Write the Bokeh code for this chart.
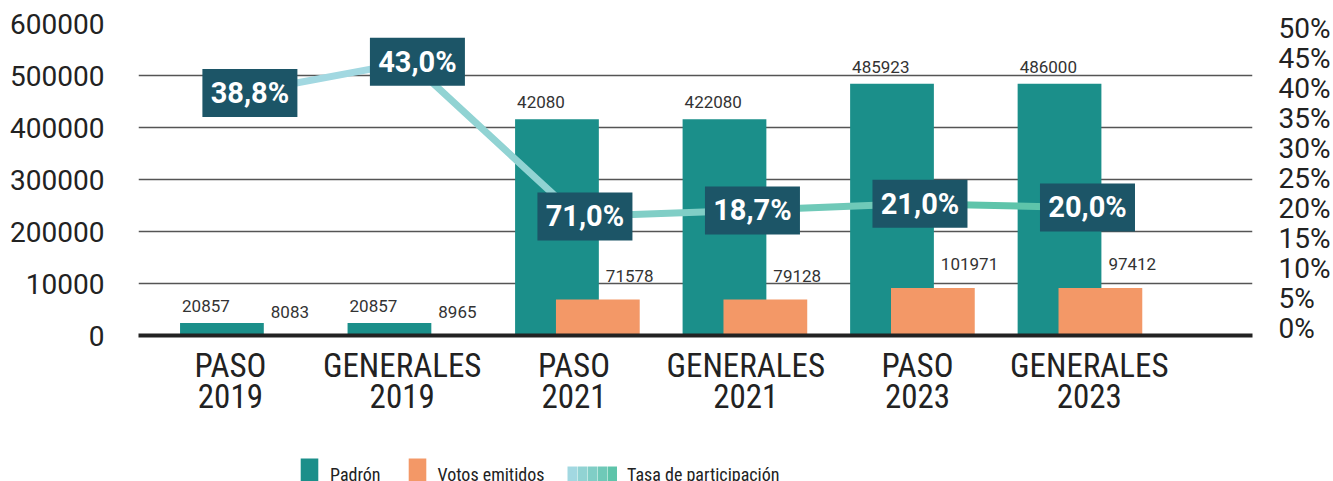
from bokeh.plotting import figure
from bokeh.layouts import column
from bokeh.models import (Range1d, LinearAxis, FixedTicker, Legend, LegendItem)
from bokeh.core.properties import value
from bokeh.embed import file_html
from bokeh.resources import INLINE

# ---------------- data ----------------
categories = ["PASO\n2019", "GENERALES\n2019", "PASO\n2021",
              "GENERALES\n2021", "PASO\n2023", "GENERALES\n2023"]
padron = [24000, 24000, 416000, 416000, 484000, 484000]
votos = [0, 0, 69000, 69000, 91500, 91500]
tasa = [39.3, 44.5, 18.7, 19.7, 20.8, 20.2]

padron_labels = ["20857", "20857", "42080", "422080", "485923", "486000"]
votos_labels = ["8083", "8965", "71578", "79128", "101971", "97412"]
tasa_labels = ["38,8%", "43,0%", "71,0%", "18,7%", "21,0%", "20,0%"]

left_ticks = [0, 100000, 200000, 300000, 400000, 500000, 600000]
left_tick_labels = ["0", "10000", "200000", "300000", "400000", "500000", "600000"]
right_ticks = [0, 5, 10, 15, 20, 25, 30, 35, 40, 45, 50]
right_tick_labels = ["0%", "5%", "10%", "15%", "20%", "25%", "30%", "35%", "40%", "45%", "50%"]

legend_labels = ["Padrón", "Votos emitidos", "Tasa de participación"]

# ---------------- style ----------------
TEAL = "#1b8f8a"
ORANGE = "#f39867"
BOX = "#1c5567"
TXT = "#222222"
NARROW = "'Liberation Sans Narrow', 'Roboto Condensed', 'Roboto'"
grad_start = (0xaa, 0xdb, 0xe8)
grad_end = (0x56, 0xc1, 0xa3)


def grad(t):
    c = tuple(int(round(a + (b - a) * t)) for a, b in zip(grad_start, grad_end))
    return "#%02x%02x%02x" % c


idx = list(range(len(categories)))
off = 0.122
bw = 0.5

p = figure(width=1333, height=458, output_backend="svg", toolbar_location=None,
           x_range=Range1d(-0.62, 6.03), y_range=Range1d(0, 600000),
           x_axis_location=None, min_border_left=138, min_border_right=76,
           min_border_top=23, min_border_bottom=123)
p.outline_line_color = None
p.background_fill_color = "white"
p.border_fill_color = "white"
p.xgrid.visible = False
p.ygrid.ticker = FixedTicker(ticks=left_ticks[1:])
p.ygrid.grid_line_color = "#555555"
p.ygrid.grid_line_width = 1.3

# left axis
ya = p.yaxis[0]
ya.ticker = FixedTicker(ticks=left_ticks)
ya.major_label_overrides = {t: l for t, l in zip(left_ticks, left_tick_labels)}
ya.axis_line_color = None
ya.major_tick_line_color = None
ya.minor_tick_line_color = None
ya.major_label_standoff = 28
ya.major_label_text_font = "Roboto"
ya.major_label_text_font_size = "28px"
ya.major_label_text_color = TXT

# right axis
p.extra_y_ranges = {"pct": Range1d(-1.17, 50.9)}
ra = LinearAxis(y_range_name="pct", ticker=FixedTicker(ticks=right_ticks),
                major_label_overrides={t: l for t, l in zip(right_ticks, right_tick_labels)})
ra.axis_line_color = None
ra.major_tick_line_color = None
ra.minor_tick_line_color = None
ra.major_label_standoff = 20
ra.major_label_text_font = "Roboto"
ra.major_label_text_font_size = "28px"
ra.major_label_text_color = TXT
p.add_layout(ra, "right")

# bottom axis (category labels)
p.extra_x_ranges = {"lbl": Range1d(-0.535, 5.95)}
xa = LinearAxis(x_range_name="lbl", ticker=FixedTicker(ticks=idx),
                major_label_overrides={i: c for i, c in zip(idx, categories)})
xa.axis_line_color = TXT
xa.axis_line_width = 4
xa.major_tick_line_color = None
xa.minor_tick_line_color = None
xa.major_label_standoff = 4
xa.major_label_text_font = NARROW
xa.major_label_text_font_size = "33px"
xa.major_label_text_line_height = 0.82
xa.major_label_text_color = TXT
p.add_layout(xa, "below")

# bars
r_pad = p.vbar(x=[i - off for i in idx], top=padron, width=bw, bottom=0,
               fill_color=TEAL, line_color=None)
r_vot = p.vbar(x=[i + off for i in idx], top=votos, width=bw, bottom=0,
               fill_color=ORANGE, line_color=None)

# value labels
p.text(x=[i - off - bw / 2 for i in idx], y=padron, text=padron_labels,
       x_offset=2, y_offset=-17, text_align="left", text_baseline="middle",
       text_font=value("Roboto"), text_font_size="17px", text_color="#333333")
p.text(x=[i + off for i in idx], y=votos, text=votos_labels,
       x_offset=8, y_offset=-24, text_align="left", text_baseline="middle",
       text_font=value("Roboto"), text_font_size="17px", text_color="#333333")

# participation line (gradient approximated per segment)
n = len(idx) - 1
seg_colors = [grad((k + 0.5) / n) for k in range(n)]
p.segment(x0=idx[:-1], y0=tasa[:-1], x1=idx[1:], y1=tasa[1:], line_color=seg_colors,
          line_width=7, line_cap="round", y_range_name="pct")

box_x = [i + 0.045 for i in idx]
p.rect(x=box_x, y=tasa, width=95, height=48, width_units="screen", height_units="screen",
       fill_color=BOX, line_color=None, y_range_name="pct")
p.text(x=box_x, y=tasa, text=tasa_labels, text_align="center", text_baseline="middle",
       text_font=value("Roboto"), text_font_style="bold", text_font_size="29px",
       text_color="white", y_range_name="pct")

# ---------------- legend strip (cut by the window bottom, as in the reference) ----
lg = figure(width=1333, height=23, output_backend="svg", toolbar_location=None,
            x_range=Range1d(0, 1), y_range=Range1d(0, 1), min_border=0,
            x_axis_location=None, y_axis_location=None)
lg.outline_line_color = None
lg.grid.visible = False
lg.background_fill_color = None
lg.border_fill_color = None
# legend-only renderers with zero-size geometry (they draw nothing themselves)
d_pad = lg.vbar(x=[0.5], top=[0], bottom=0, width=0, fill_color=TEAL, line_color=None)
d_vot = lg.vbar(x=[0.5], top=[0], bottom=0, width=0, fill_color=ORANGE, line_color=None)
d_grad = [lg.line(x=[0.5, 0.5], y=[0.5, 0.5], line_width=16, line_color=grad((k + 0.5) / 5))
          for k in range(5)]
d_none = lg.vbar(x=[0.5], top=[0], bottom=0, width=0, fill_alpha=0, line_color=None)
common = dict(orientation="horizontal", padding=0, margin=0, border_line_color=None,
              background_fill_alpha=0, label_text_font=NARROW, label_text_font_size="18px",
              label_text_color=TXT, glyph_height=40)
# legend strip frame is aligned with the main frame (left edge at x=138)
leg1 = Legend(items=[LegendItem(label=legend_labels[0], renderers=[d_pad]),
                     LegendItem(label=legend_labels[1], renderers=[d_vot])],
              location=(160, -13), glyph_width=22, label_standoff=10, spacing=25, **common)
# gradient swatch: five colour bands
leg_g = Legend(items=[LegendItem(label="", renderers=[r]) for r in d_grad],
               location=(429, -13), orientation="horizontal", padding=0, margin=0,
               border_line_color=None, background_fill_alpha=0, glyph_height=40,
               glyph_width=10, label_standoff=0, spacing=0, label_width=0,
               label_height=0, label_text_font_size="1px")
leg2 = Legend(items=[LegendItem(label=legend_labels[2], renderers=[d_none])],
              location=(479, -13), glyph_width=0, label_standoff=10, **common)
lg.add_layout(leg1)
lg.add_layout(leg_g)
lg.add_layout(leg2)

layout = column(p, lg, spacing=0)
open("out.html", "w").write(file_html(layout, INLINE))
